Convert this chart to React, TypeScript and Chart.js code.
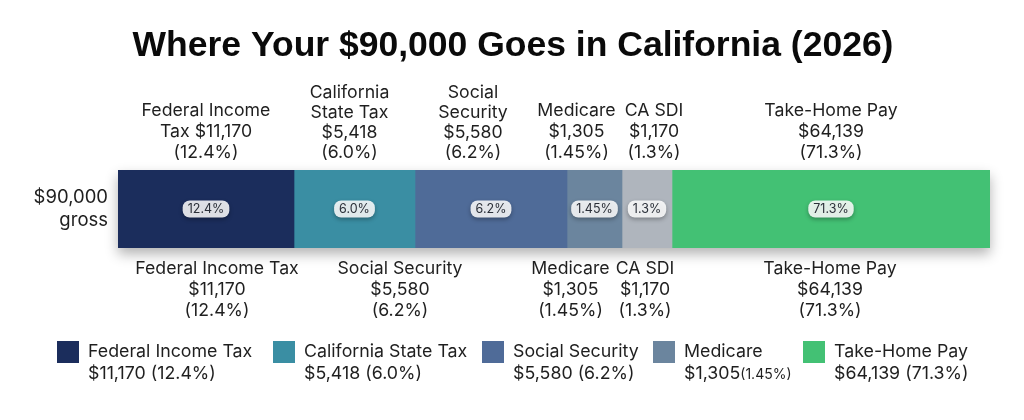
import React, { useEffect, useRef } from "react";
import { Chart, registerables } from "chart.js";

Chart.register(...registerables);

// ---------- data ----------
const title = "Where Your $90,000 Goes in California (2026)";
const rowLabel = ["$90,000", "gross"];
const categories = [
  "Federal Income Tax",
  "California State Tax",
  "Social Security",
  "Medicare",
  "CA SDI",
  "Take-Home Pay",
];
const amounts = ["$11,170", "$5,418", "$5,580", "$1,305", "$1,170", "$64,139"];
const percents = ["12.4%", "6.0%", "6.2%", "1.45%", "1.3%", "71.3%"];
// segment lengths as drawn in the reference bar (relative units)
const barLengths = [176, 121, 152, 55, 50, 318];
const topLabels = [
  ["Federal Income", "Tax $11,170", "(12.4%)"],
  ["California", "State Tax", "$5,418", "(6.0%)"],
  ["Social", "Security", "$5,580", "(6.2%)"],
  ["Medicare", "$1,305", "(1.45%)"],
  ["CA SDI", "$1,170", "(1.3%)"],
  ["Take-Home Pay", "$64,139", "(71.3%)"],
];
const bottomLabels = [
  ["Federal Income Tax", "$11,170", "(12.4%)"],
  null,
  ["Social Security", "$5,580", "(6.2%)"],
  ["Medicare", "$1,305", "(1.45%)"],
  ["CA SDI", "$1,170", "(1.3%)"],
  ["Take-Home Pay", "$64,139", "(71.3%)"],
];
const legendIndices = [0, 1, 2, 3, 5];

// ---------- style / layout ----------
const colors = ["#1b2d5c", "#3a8ea3", "#4f6b98", "#6b859e", "#afb5bd", "#43c174"];
const topOffsets = [0, -5, -18, -18, 7, 0];
const bottomOffsets = [11, 0, -91, -24, -2, -1];
const legendX = [57, 273, 482, 653, 803];
const TEXT = "#1f1f1f";
const FONT = "Inter, 'Noto Sans', sans-serif";

function segRect(chart: any, i: number) {
  const el: any = chart.getDatasetMeta(i).data[0];
  const p = el.getProps(["x", "y", "base", "height"], true);
  const l = Math.min(p.x, p.base);
  const r = Math.max(p.x, p.base);
  return { l, r, t: p.y - p.height / 2, b: p.y + p.height / 2, cy: p.y };
}

const overlay = {
  id: "overlay",
  beforeDatasetsDraw(chart: any) {
    const ctx = chart.ctx;
    const a = segRect(chart, 0);
    const z = segRect(chart, categories.length - 1);
    ctx.save();
    ctx.shadowColor = "rgba(0,0,0,0.30)";
    ctx.shadowBlur = 12;
    ctx.shadowOffsetY = 6;
    ctx.fillStyle = "#ffffff";
    ctx.fillRect(a.l, a.t, z.r - a.l, a.b - a.t);
    ctx.restore();
  },
  afterDatasetsDraw(chart: any) {
    const ctx = chart.ctx;
    ctx.save();
    // pills
    categories.forEach((_, i) => {
      const s = segRect(chart, i);
      const cx = (s.l + s.r) / 2;
      ctx.font = `12.5px ${FONT}`;
      const w = ctx.measureText(percents[i]).width + 10;
      const h = 17;
      ctx.save();
      ctx.shadowColor = "rgba(0,0,0,0.35)";
      ctx.shadowBlur = 4;
      ctx.shadowOffsetY = 2;
      ctx.fillStyle = "rgba(255,255,255,0.86)";
      ctx.beginPath();
      (ctx as any).roundRect(cx - w / 2, s.cy - h / 2, w, h, 7);
      ctx.fill();
      ctx.restore();
      ctx.fillStyle = "#2a2f38";
      ctx.textAlign = "center";
      ctx.textBaseline = "middle";
      ctx.fillText(percents[i], cx, s.cy + 0.5);
    });
    // top & bottom labels
    ctx.font = `17.7px ${FONT}`;
    ctx.fillStyle = TEXT;
    ctx.textAlign = "center";
    ctx.textBaseline = "middle";
    categories.forEach((_, i) => {
      const s = segRect(chart, i);
      const cx = (s.l + s.r) / 2;
      const tl = topLabels[i];
      const lhT = tl.length > 3 ? 20 : 21;
      tl.forEach((line, k) => {
        ctx.fillText(line, cx + topOffsets[i], s.t - 17 - (tl.length - 1 - k) * lhT);
      });
      const bl = bottomLabels[i];
      if (bl) {
        bl.forEach((line, k) => {
          ctx.fillText(line, cx + bottomOffsets[i], s.b + 21 + k * 21);
        });
      }
    });
    ctx.restore();
  },
  afterDraw(chart: any) {
    const ctx = chart.ctx;
    ctx.save();
    // title
    ctx.font = `bold 35.5px 'Liberation Sans', Arial, sans-serif`;
    ctx.fillStyle = "#0a0a0a";
    ctx.textAlign = "center";
    ctx.textBaseline = "middle";
    ctx.fillText(title, 513, 46);
    // legend
    legendIndices.forEach((idx, j) => {
      const x = legendX[j];
      ctx.fillStyle = colors[idx];
      ctx.fillRect(x, 341, 22, 22);
      ctx.fillStyle = TEXT;
      ctx.textAlign = "left";
      ctx.textBaseline = "middle";
      ctx.font = `17.8px ${FONT}`;
      ctx.fillText(categories[idx], x + 31, 352);
      if (idx === 3) {
        ctx.fillText(amounts[idx], x + 31, 374);
        const w = ctx.measureText(amounts[idx]).width;
        ctx.font = `14px ${FONT}`;
        ctx.fillText(`(${percents[idx]})`, x + 31 + w, 375);
      } else {
        ctx.fillText(`${amounts[idx]} (${percents[idx]})`, x + 31, 374);
      }
    });
    ctx.restore();
  },
};

export default function App() {
  const ref = useRef<HTMLCanvasElement | null>(null);
  useEffect(() => {
    if (!ref.current) return;
    const chart = new Chart(ref.current, {
      type: "bar",
      data: {
        labels: [rowLabel],
        datasets: categories.map((c, i) => ({
          label: c,
          data: [barLengths[i]],
          backgroundColor: colors[i],
          borderWidth: 0,
          barPercentage: 1,
          categoryPercentage: 1,
        })),
      },
      options: {
        indexAxis: "y",
        responsive: false,
        animation: false,
        devicePixelRatio: 1,
        layout: { padding: { top: 170, bottom: 172, left: 0, right: 34 } },
        plugins: {
          legend: { display: false },
          tooltip: { enabled: false },
          title: { display: false },
        },
        scales: {
          x: {
            stacked: true,
            display: false,
            min: 0,
            max: barLengths.reduce((a, b) => a + b, 0),
          },
          y: {
            stacked: true,
            grid: { display: false },
            border: { display: false },
            ticks: {
              color: TEXT,
              padding: 2,
              font: { family: FONT, size: 18.5 },
            },
            afterFit(scale: any) {
              scale.width = 118;
            },
          },
        },
      },
      plugins: [overlay],
    } as any);
    return () => chart.destroy();
  }, []);
  return (
    <div style={{ position: "fixed", left: 0, top: 0, width: 1024, height: 420, background: "#fff" }}>
      <canvas ref={ref} width={1024} height={420} />
    </div>
  );
}
